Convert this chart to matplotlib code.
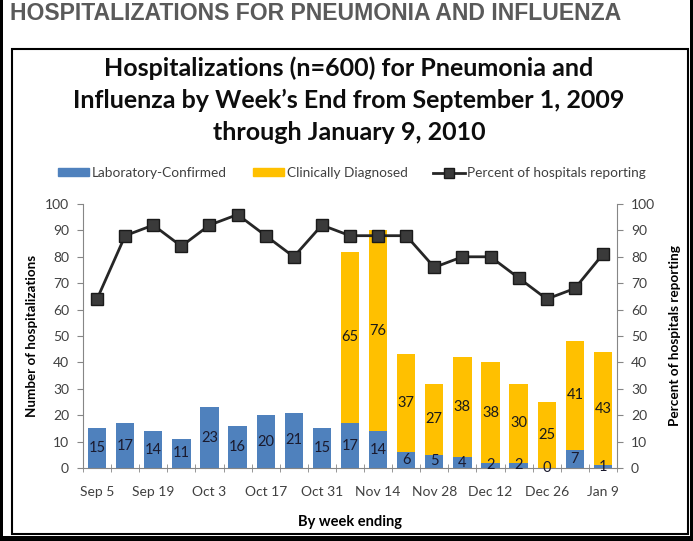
import matplotlib.pyplot as plt
import numpy as np
from matplotlib.patches import Rectangle, Patch
from matplotlib.lines import Line2D

# data
weeks = ['Sep 5', 'Sep 12', 'Sep 19', 'Sep 26', 'Oct 3', 'Oct 10', 'Oct 17', 'Oct 24',
         'Oct 31', 'Nov 7', 'Nov 14', 'Nov 21', 'Nov 28', 'Dec 5', 'Dec 12', 'Dec 19',
         'Dec 26', 'Jan 2', 'Jan 9']
lab_confirmed = [15, 17, 14, 11, 23, 16, 20, 21, 15, 17, 14, 6, 5, 4, 2, 2, 0, 7, 1]
clin_diagnosed = [0, 0, 0, 0, 0, 0, 0, 0, 0, 65, 76, 37, 27, 38, 38, 30, 25, 41, 43]
pct_reporting = [64, 88, 92, 84, 92, 96, 88, 80, 92, 88, 88, 88, 76, 80, 80, 72, 64, 68, 81]

FONT = 'Lato'
BLUE = '#4F81BD'
YELLOW = '#FFC000'
GRAY = '#868686'
TXT = '#404040'

W, H = 693, 541
fig = plt.figure(figsize=(W / 100, H / 100), dpi=100, facecolor='black')

def fx(px):
    return px / W

def fy(py):
    return 1 - py / H

# white page and framed chart panel
fig.patches.append(Rectangle((fx(3), fy(536)), fx(687), 536 / H, transform=fig.transFigure,
                             facecolor='white', edgecolor='none', zorder=-3))
fig.patches.append(Rectangle((fx(12), fy(534)), fx(676), 485 / H, transform=fig.transFigure,
                             facecolor='white', edgecolor='black', lw=1.5, zorder=-2))

fig.text(fx(10), fy(13), 'HOSPITALIZATIONS FOR PNEUMONIA AND INFLUENZA', family='Liberation Sans',
         fontweight='bold', fontsize=16.6, color='#5a5a5a', ha='left', va='center')

fig.text(fx(349), fy(100), 'Hospitalizations (n=600) for Pneumonia and\n'
         'Influenza by Week\u2019s End from September 1, 2009\nthrough January 9, 2010',
         family=FONT, fontweight='bold', fontsize=18, ha='center', va='center',
         linespacing=1.45, color='#0d0d0d')

ax = fig.add_axes([fx(83), fy(468), fx(617) - fx(83), (468 - 204) / H])
ax.set_facecolor('none')
x = np.arange(len(weeks))
b1 = ax.bar(x, lab_confirmed, width=0.65, color=BLUE, zorder=2)
b2 = ax.bar(x, clin_diagnosed, width=0.65, bottom=lab_confirmed, color=YELLOW, zorder=2)

for i in range(len(weeks)):
    ax.text(x[i], lab_confirmed[i] / 2, str(lab_confirmed[i]), ha='center', va='center',
            family=FONT, fontsize=10.5, color='#1a1a2e', zorder=3)
    if clin_diagnosed[i] > 0:
        ax.text(x[i], lab_confirmed[i] + clin_diagnosed[i] / 2, str(clin_diagnosed[i]),
                ha='center', va='center', family=FONT, fontsize=10.5, color='#1a1a1a', zorder=3)

ax.set_xlim(-0.5, len(weeks) - 0.5)
ax.set_ylim(0, 100)
ax.set_yticks(np.arange(0, 101, 10))
ax.set_xticks(x[::2])
ax.set_xticklabels(weeks[::2])
ax.set_xticks(np.arange(-0.5, len(weeks), 1), minor=True)
ax.tick_params(axis='x', which='major', length=0, pad=13, labelsize=10, labelcolor=TXT)
ax.tick_params(axis='x', which='minor', length=6, direction='inout', color=GRAY)
ax.tick_params(axis='y', length=4, color=GRAY, labelsize=10, labelcolor=TXT, pad=6)
for lab in ax.get_xticklabels() + ax.get_yticklabels():
    lab.set_family(FONT)
for s in ['top', 'right']:
    ax.spines[s].set_visible(False)
for s in ['left', 'bottom']:
    ax.spines[s].set_color(GRAY)
ax.set_ylabel('Number of hospitalizations', family=FONT, fontweight='bold', fontsize=9.6,
              labelpad=5)
ax.set_xlabel('By week ending', family=FONT, fontweight='bold', fontsize=10.5, labelpad=12)

ax2 = ax.twinx()
ax2.plot(x, pct_reporting, color='#262626', lw=2, marker='s', markersize=8,
         markerfacecolor='#3a3a3a', markeredgecolor='#1a1a1a')
ax2.set_ylim(0, 100)
ax2.set_yticks(np.arange(0, 101, 10))
ax2.tick_params(axis='y', length=4, color=GRAY, labelsize=10, labelcolor=TXT, pad=6)
for lab in ax2.get_yticklabels():
    lab.set_family(FONT)
for s in ['top', 'left', 'bottom']:
    ax2.spines[s].set_visible(False)
ax2.spines['right'].set_color(GRAY)
ax2.set_ylabel('Percent of hospitals reporting', family=FONT, fontweight='bold', fontsize=9.8,
               labelpad=10)

handles = [Patch(color=BLUE), Patch(color=YELLOW),
           Line2D([], [], color='#262626', lw=2, marker='s', markersize=7,
                  markerfacecolor='#3a3a3a', markeredgecolor='#1a1a1a')]
fig.legend(handles, ['Laboratory-Confirmed', 'Clinically Diagnosed', 'Percent of hospitals reporting'],
           loc='center', bbox_to_anchor=(fx(352), fy(173)), ncol=3, frameon=False,
           prop={'family': FONT, 'size': 9.8}, handlelength=2.3, handleheight=0.55,
           handletextpad=0.2, columnspacing=1.9, labelcolor=TXT)

fig.savefig('out.png', dpi=100, facecolor='black')
